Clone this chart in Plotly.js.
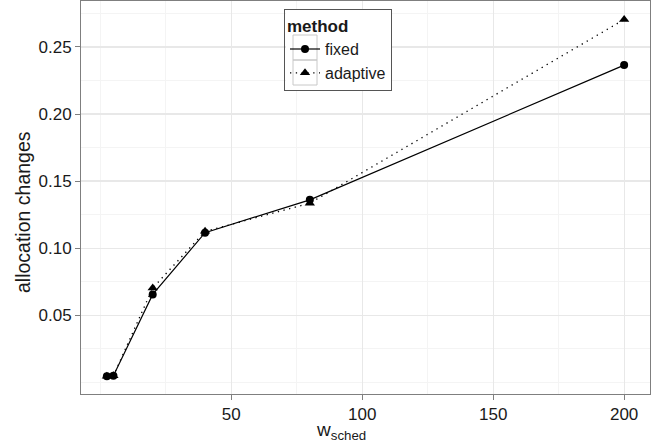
<!DOCTYPE html>
<html>
<head>
<meta charset="utf-8">
<script src="https://cdn.plot.ly/plotly-3.0.1.min.js"></script>
<style>
  html, body { margin: 0; padding: 0; background: #fff; }
  #chart { width: 657px; height: 445px; }
</style>
</head>
<body>
<div id="chart"></div>
<script>
// Scheduling window sizes and the share of allocations that changed
const wSched = [2.5, 5, 20, 40, 80, 200];
const fixedChanges = [0.0045, 0.0048, 0.0655, 0.1115, 0.136, 0.2365];
const adaptiveChanges = [0.0045, 0.0048, 0.0702, 0.1125, 0.1335, 0.2705];

const xTicks = [50, 100, 150, 200];
const xMinor = [0, 25, 75, 125, 175];
const yTicks = [0.05, 0.10, 0.15, 0.20, 0.25];
const yMinor = [0, 0.025, 0.075, 0.125, 0.175, 0.225, 0.275];

const FONT = 'Liberation Sans, Arial, sans-serif';
const INK = '#1a1a1a';
const FRAME = '#7f7f7f';

// plot panel in pixels
const PL = 81, PR = 650, PT = 1, PB = 394;
const px2x = p => (p - PL) / (PR - PL);
const px2y = p => (PB - p) / (PB - PT);

const traces = [
  {
    x: wSched, y: fixedChanges, name: 'fixed',
    type: 'scatter', mode: 'lines+markers',
    line: { color: '#000', width: 1.2, dash: 'solid' },
    marker: { symbol: 'circle', size: 8, color: '#000' }
  },
  {
    x: wSched, y: adaptiveChanges, name: 'adaptive',
    type: 'scatter', mode: 'lines+markers',
    line: { color: '#000', width: 1.3, dash: '1.3px,4.5px' },
    marker: { symbol: 'triangle-up', size: 9, color: '#000' }
  }
];

const axisCommon = {
  showline: true, mirror: true, linecolor: FRAME, linewidth: 1,
  ticks: 'outside', ticklen: 5, tickcolor: FRAME, tickwidth: 1,
  showgrid: true, gridcolor: '#e8e8e8', gridwidth: 1.2,
  zeroline: false,
  tickfont: { family: FONT, size: 17, color: INK }
};

// legend frame: white backing plus the grey key cells
const keyCell = (top, bottom) => ({
  type: 'rect', xref: 'paper', yref: 'paper', layer: 'above',
  x0: px2x(293), x1: px2x(317), y0: px2y(bottom), y1: px2y(top),
  fillcolor: 'rgba(0,0,0,0)', line: { color: '#c8c8c8', width: 1 }
});
const legendShapes = [
  { type: 'rect', xref: 'paper', yref: 'paper', layer: 'above',
    x0: px2x(286), x1: px2x(392), y0: px2y(90), y1: px2y(10),
    fillcolor: '#fff', line: { width: 0 } },
  keyCell(35, 60),
  keyCell(60, 85)
];

const layout = {
  width: 657, height: 445,
  margin: { l: PL, r: 657 - PR, t: PT, b: 445 - PB },
  paper_bgcolor: '#fff', plot_bgcolor: '#fff',
  showlegend: true,
  xaxis: Object.assign({}, axisCommon, {
    range: [-7.375, 209.875],
    tickmode: 'array', tickvals: xTicks, ticktext: xTicks.map(String),
    minor: { tickvals: xMinor, showgrid: true, gridcolor: '#f4f4f4', gridwidth: 1, ticks: '' }
  }),
  yaxis: Object.assign({}, axisCommon, {
    range: [-0.0088, 0.2843],
    tickmode: 'array', tickvals: yTicks, ticktext: yTicks.map(v => v.toFixed(2)),
    minor: { tickvals: yMinor, showgrid: true, gridcolor: '#f4f4f4', gridwidth: 1, ticks: '' }
  }),
  legend: {
    x: px2x(284), y: px2y(9), xanchor: 'left', yanchor: 'top',
    bgcolor: 'rgba(0,0,0,0)', bordercolor: '#555', borderwidth: 1,
    font: { family: FONT, size: 16, color: INK },
    title: { text: '<b>method</b>', font: { family: FONT, size: 17, color: INK } },
    tracegroupgap: 0, itemwidth: 30
  },
  shapes: legendShapes,
  annotations: [
    {
      xref: 'paper', yref: 'paper',
      x: px2x(341), y: px2y(417), xanchor: 'center', yanchor: 'top',
      text: 'w<sub>sched</sub>', showarrow: false,
      font: { family: FONT, size: 19, color: INK }
    },
    {
      xref: 'paper', yref: 'paper',
      x: px2x(23), y: px2y(212), xanchor: 'center', yanchor: 'middle',
      text: 'allocation changes', textangle: -90, showarrow: false,
      font: { family: FONT, size: 19.5, color: INK }
    }
  ]
};

Plotly.newPlot('chart', traces, layout, { displayModeBar: false, staticPlot: true });
</script>
</body>
</html>
